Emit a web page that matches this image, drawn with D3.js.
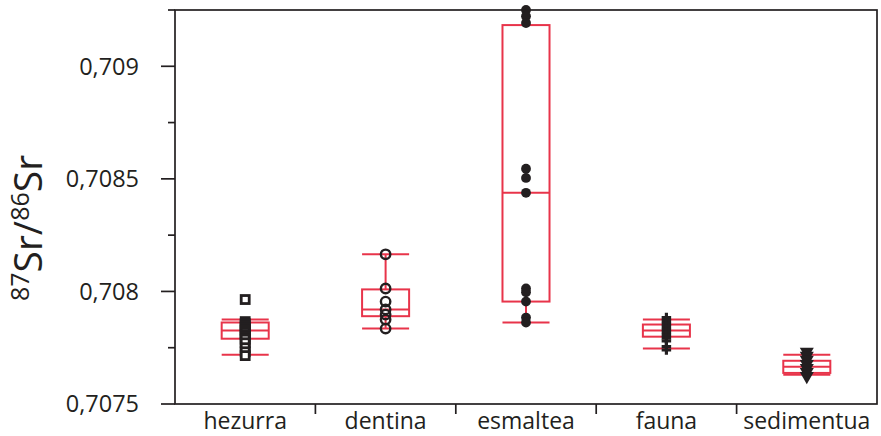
<!DOCTYPE html>
<html>
<head>
<meta charset="utf-8">
<script src="https://cdn.jsdelivr.net/npm/d3@7"></script>
<style>
  html, body { margin: 0; padding: 0; background: #ffffff; }
  svg { display: block; }
  text { font-family: "Open Sans", "DejaVu Sans", sans-serif; fill: #231f20; }
</style>
</head>
<body>
<svg id="chart" width="881" height="436"></svg>
<script>
// Sample groups along the x axis
const categories = ["hezurra", "dentina", "esmaltea", "fauna", "sedimentua"];

// Box statistics per group: lower whisker, Q1, median, Q3, upper whisker
const whiskerLow  = [0.707719, 0.707835, 0.707862, 0.707746, 0.707630];
const quartile1   = [0.707790, 0.707890, 0.707955, 0.707799, 0.707638];
const medians     = [0.707826, 0.707920, 0.708438, 0.707826, 0.707665];
const quartile3   = [0.707862, 0.708009, 0.709183, 0.707853, 0.707692];
const whiskerHigh = [0.707875, 0.708165, 0.709183, 0.707875, 0.707719];

// Individual measurements per group
const hezurraValues = [0.707964, 0.707866, 0.707857, 0.707848, 0.707838, 0.707828, 0.707818, 0.707808, 0.707798, 0.707788, 0.707772, 0.707750, 0.707732, 0.707715];
const dentinaValues = [0.708165, 0.708013, 0.707955, 0.707920, 0.707897, 0.707875, 0.707835];
const esmalteaValues = [0.709250, 0.709222, 0.709192, 0.708545, 0.708504, 0.708438, 0.708013, 0.707996, 0.707955, 0.707884, 0.707862];
const faunaValues = [0.707884, 0.707870, 0.707857, 0.707844, 0.707831, 0.707818, 0.707805, 0.707792, 0.707780, 0.707755, 0.707740];
const sedimentuaValues = [0.707732, 0.707714, 0.707696, 0.707678, 0.707660, 0.707642, 0.707624];

const pointValues = [hezurraValues, dentinaValues, esmalteaValues, faunaValues, sedimentuaValues];
const markerKinds = ["square", "openCircle", "dot", "cross", "triangleDown"];

// Axis ticks
const majorTicks = [0.7075, 0.708, 0.7085, 0.709];
const minorTicks = [0.70775, 0.70825, 0.70875, 0.70925];
const majorTickLabels = ["0,7075", "0,708", "0,7085", "0,709"];

(function draw() {
  const svg = d3.select("#chart");
  const plotLeft = 175, plotRight = 877, plotTop = 10, plotBottom = 404;
  const red = "#e8344a";
  const ink = "#231f20";

  const x = d3.scaleBand().domain(categories).range([plotLeft, plotRight]).paddingInner(0).paddingOuter(0);
  const y = d3.scaleLinear().domain([0.7075, 0.70925]).range([plotBottom, plotTop]);
  const boxW = x.bandwidth() * 0.335;

  // Boxes and whiskers
  const boxes = svg.append("g");
  categories.forEach((c, i) => {
    const cx = x(c) + x.bandwidth() / 2;
    const g = boxes.append("g").attr("fill", "none").attr("stroke", red).attr("stroke-width", 2);
    g.append("rect")
      .attr("x", cx - boxW / 2).attr("width", boxW)
      .attr("y", y(quartile3[i])).attr("height", y(quartile1[i]) - y(quartile3[i]));
    g.append("line").attr("x1", cx - boxW / 2).attr("x2", cx + boxW / 2)
      .attr("y1", y(medians[i])).attr("y2", y(medians[i]));
    if (whiskerHigh[i] > quartile3[i]) {
      g.append("line").attr("x1", cx).attr("x2", cx).attr("y1", y(quartile3[i])).attr("y2", y(whiskerHigh[i]));
      g.append("line").attr("x1", cx - boxW / 2).attr("x2", cx + boxW / 2)
        .attr("y1", y(whiskerHigh[i])).attr("y2", y(whiskerHigh[i]));
    }
    if (whiskerLow[i] < quartile1[i]) {
      g.append("line").attr("x1", cx).attr("x2", cx).attr("y1", y(quartile1[i])).attr("y2", y(whiskerLow[i]));
      g.append("line").attr("x1", cx - boxW / 2).attr("x2", cx + boxW / 2)
        .attr("y1", y(whiskerLow[i])).attr("y2", y(whiskerLow[i]));
    }
  });

  // Measurement markers
  const pts = svg.append("g");
  categories.forEach((c, i) => {
    const cx = x(c) + x.bandwidth() / 2;
    const kind = markerKinds[i];
    pointValues[i].forEach(v => {
      const cy = y(v);
      if (kind === "square") {
        pts.append("rect").attr("x", cx - 4).attr("y", cy - 4).attr("width", 8).attr("height", 8)
          .attr("fill", "#ffffff").attr("stroke", ink).attr("stroke-width", 2.8);
      } else if (kind === "openCircle") {
        pts.append("circle").attr("cx", cx).attr("cy", cy).attr("r", 4.7)
          .attr("fill", "none").attr("stroke", ink).attr("stroke-width", 2.4);
      } else if (kind === "dot") {
        pts.append("circle").attr("cx", cx).attr("cy", cy).attr("r", 4.9).attr("fill", ink);
      } else if (kind === "cross") {
        pts.append("path").attr("transform", `translate(${cx},${cy})`)
          .attr("d", d3.symbol(d3.symbolCross, 50)()).attr("fill", ink);
      } else {
        pts.append("path").attr("transform", `translate(${cx},${cy}) rotate(180)`)
          .attr("d", d3.symbol(d3.symbolTriangle, 85)()).attr("fill", ink);
      }
    });
  });

  // Frame
  svg.append("rect").attr("x", plotLeft).attr("y", plotTop)
    .attr("width", plotRight - plotLeft).attr("height", plotBottom - plotTop)
    .attr("fill", "none").attr("stroke", ink).attr("stroke-width", 1.7);

  // Y axis: major ticks with labels, minor ticks without
  const yAxis = svg.append("g").attr("stroke", ink).attr("stroke-width", 1.7);
  majorTicks.forEach(t => {
    yAxis.append("line").attr("x1", plotLeft - 14).attr("x2", plotLeft).attr("y1", y(t)).attr("y2", y(t));
  });
  minorTicks.forEach(t => {
    yAxis.append("line").attr("x1", plotLeft - 7).attr("x2", plotLeft).attr("y1", y(t)).attr("y2", y(t));
  });
  svg.append("g").selectAll("text").data(majorTicks).join("text")
    .attr("x", 139).attr("y", d => y(d)).attr("dy", "0.35em")
    .attr("text-anchor", "end").attr("font-size", 23.5)
    .text((d, i) => majorTickLabels[i]);

  // X axis: separators between groups and group names
  const xAxis = svg.append("g").attr("stroke", ink).attr("stroke-width", 1.7);
  categories.slice(1).forEach(c => {
    xAxis.append("line").attr("x1", x(c)).attr("x2", x(c)).attr("y1", plotBottom).attr("y2", plotBottom + 10);
  });
  svg.append("g").selectAll("text").data(categories).join("text")
    .attr("x", d => x(d) + x.bandwidth() / 2).attr("y", 429)
    .attr("text-anchor", "middle").attr("font-size", 23)
    .text(d => d);

  // Y axis title: 87Sr/86Sr
  const title = svg.append("text")
    .attr("transform", "translate(42,228) rotate(-90)")
    .attr("text-anchor", "middle").attr("font-size", 39);
  title.append("tspan").attr("font-size", 25).attr("dy", -13).text("87");
  title.append("tspan").attr("dy", 13).text("Sr/");
  title.append("tspan").attr("font-size", 25).attr("dy", -13).text("86");
  title.append("tspan").attr("dy", 13).text("Sr");
})();
</script>
</body>
</html>
